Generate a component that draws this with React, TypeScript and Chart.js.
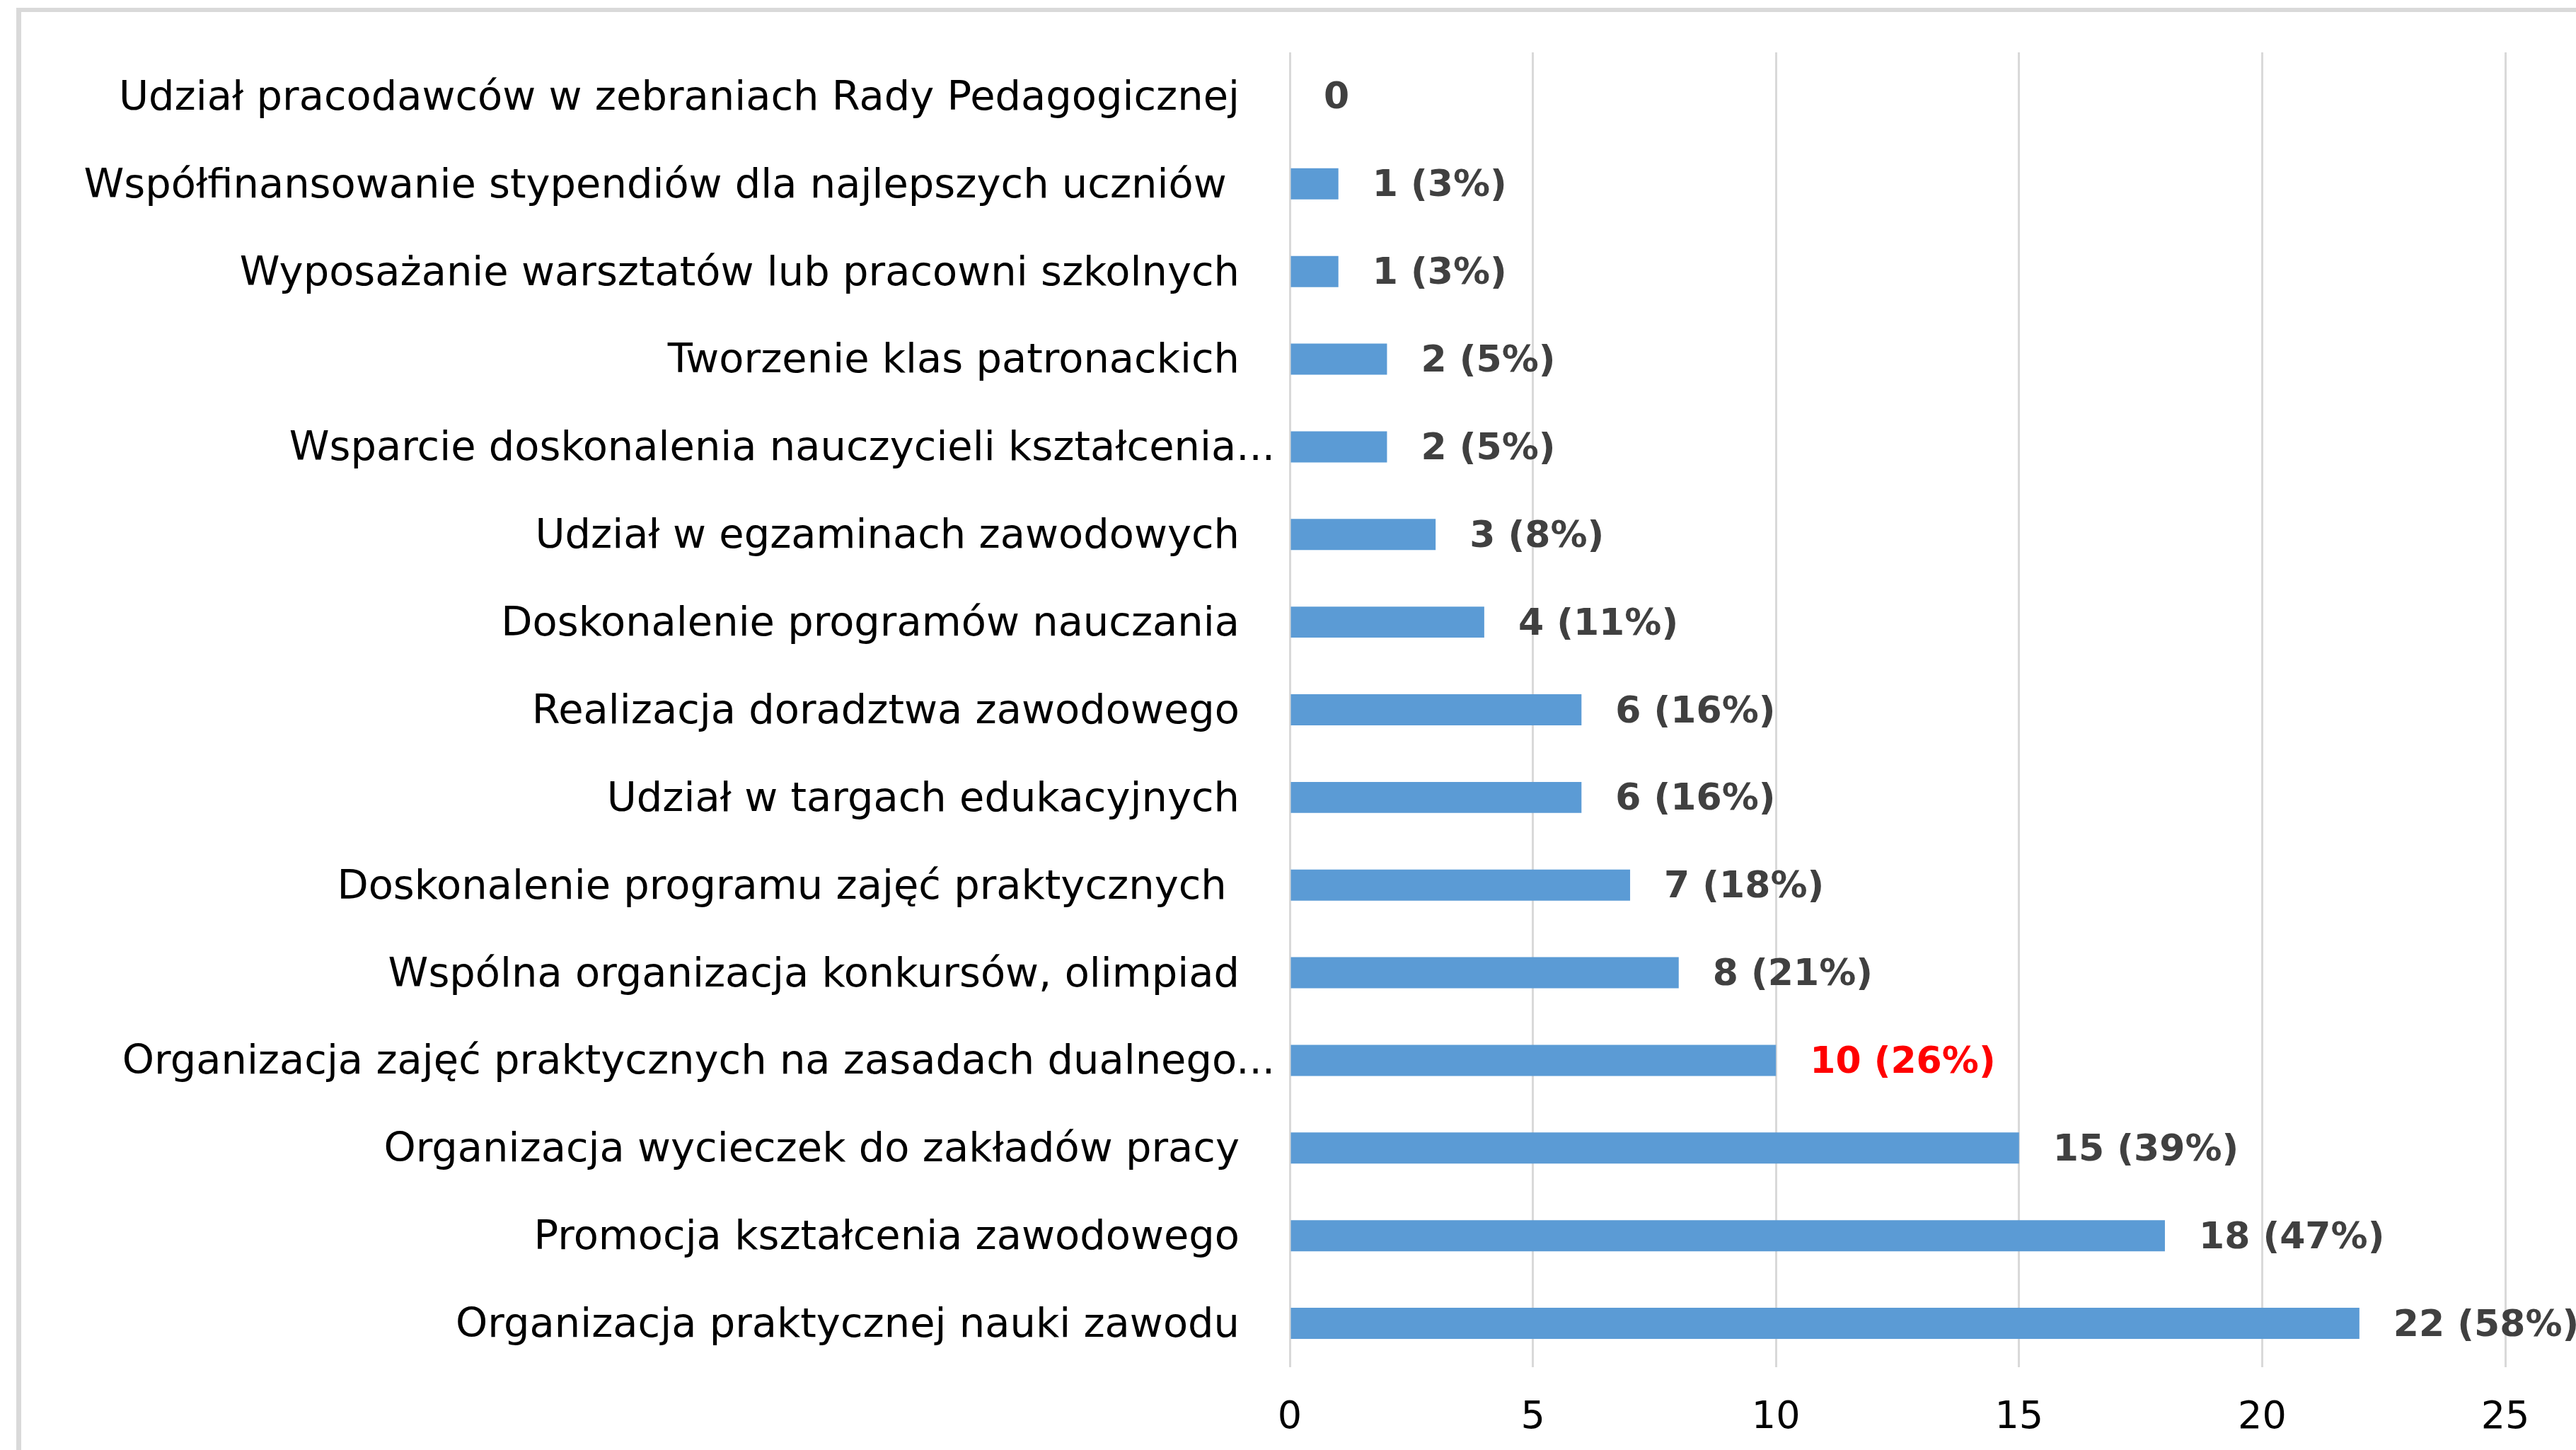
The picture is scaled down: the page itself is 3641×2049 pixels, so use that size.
import React, { useEffect, useRef } from "react";
import { Chart, registerables } from "chart.js";

Chart.register(...registerables);

const categories: string[] = [
  "Udział pracodawców w zebraniach Rady Pedagogicznej",
  "Współfinansowanie stypendiów dla najlepszych uczniów ",
  "Wyposażanie warsztatów lub pracowni szkolnych",
  "Tworzenie klas patronackich",
  "Wsparcie doskonalenia nauczycieli kształcenia...",
  "Udział w egzaminach zawodowych",
  "Doskonalenie programów nauczania",
  "Realizacja doradztwa zawodowego",
  "Udział w targach edukacyjnych",
  "Doskonalenie programu zajęć praktycznych ",
  "Wspólna organizacja konkursów, olimpiad",
  "Organizacja zajęć praktycznych na zasadach dualnego...",
  "Organizacja wycieczek do zakładów pracy",
  "Promocja kształcenia zawodowego",
  "Organizacja praktycznej nauki zawodu",
];

const counts: number[] = [0, 1, 1, 2, 2, 3, 4, 6, 6, 7, 8, 10, 15, 18, 22];

const valueLabels: string[] = [
  "0",
  "1 (3%)",
  "1 (3%)",
  "2 (5%)",
  "2 (5%)",
  "3 (8%)",
  "4 (11%)",
  "6 (16%)",
  "6 (16%)",
  "7 (18%)",
  "8 (21%)",
  "10 (26%)",
  "15 (39%)",
  "18 (47%)",
  "22 (58%)",
];

const highlightedLabels: string[] = ["10 (26%)"];

const xMin = 0;
const xMax = 25;
const xStep = 5;

const W = 3641;
const H = 2049;

const excelPlugin = {
  id: "excelDecor",
  beforeDraw(chart: any) {
    const ctx = chart.ctx;
    ctx.save();
    ctx.strokeStyle = "#d9d9d9";
    ctx.lineWidth = 6;
    ctx.beginPath();
    ctx.moveTo(23, 14);
    ctx.lineTo(chart.width, 14);
    ctx.stroke();
    ctx.lineWidth = 7;
    ctx.beginPath();
    ctx.moveTo(26.5, 11);
    ctx.lineTo(26.5, chart.height);
    ctx.stroke();
    ctx.restore();
  },
  afterDatasetsDraw(chart: any) {
    const ctx = chart.ctx;
    const yScale = chart.scales.y;
    const area = chart.chartArea;
    ctx.save();
    ctx.textBaseline = "middle";
    ctx.textAlign = "right";
    ctx.fillStyle = "#000000";
    ctx.font = "57.5px 'DejaVu Sans'";
    categories.forEach((c, i) => {
      const py = yScale.getPixelForValue(i) + 4;
      const truncated = c.endsWith("...");
      ctx.fillText(c, area.left - (truncated ? 21 : 71), py);
    });
    ctx.textAlign = "left";
    ctx.font = "bold 52px 'DejaVu Sans'";
    const meta = chart.getDatasetMeta(0);
    meta.data.forEach((bar: any, i: number) => {
      const txt = valueLabels[i];
      ctx.fillStyle = highlightedLabels.includes(txt) ? "#ff0000" : "#404040";
      ctx.fillText(txt, bar.x + 48, bar.y + 4);
    });
    ctx.restore();
  },
};

export default function App() {
  const ref = useRef<HTMLCanvasElement | null>(null);

  useEffect(() => {
    if (!ref.current) return;
    const chart = new Chart(ref.current, {
      type: "bar",
      data: {
        labels: categories,
        datasets: [
          {
            data: counts,
            backgroundColor: "#5b9bd5",
            borderWidth: 0,
            barPercentage: 0.355,
            categoryPercentage: 1,
          },
        ],
      },
      options: {
        indexAxis: "y",
        responsive: false,
        animation: false,
        devicePixelRatio: 1,
        layout: { padding: { left: 1823, top: 74, right: 100, bottom: 0 } },
        plugins: {
          legend: { display: false },
          tooltip: { enabled: false },
          title: { display: false },
        },
        scales: {
          y: {
            type: "category",
            display: false,
          },
          x: {
            type: "linear",
            min: xMin,
            max: xMax,
            border: { display: false },
            grid: { color: "#d9d9d9", lineWidth: 3, drawTicks: false },
            ticks: {
              stepSize: xStep,
              color: "#000000",
              padding: 40,
              font: { family: "'DejaVu Sans'", size: 54 },
            },
            afterFit: (scale: any) => {
              scale.height = 117;
            },
          },
        },
      },
      plugins: [excelPlugin],
    } as any);
    return () => chart.destroy();
  }, []);

  return (
    <div style={{ position: "fixed", left: 0, top: 0, width: W, height: H, background: "#ffffff" }}>
      <canvas ref={ref} width={W} height={H} style={{ width: W, height: H, display: "block" }} />
    </div>
  );
}
